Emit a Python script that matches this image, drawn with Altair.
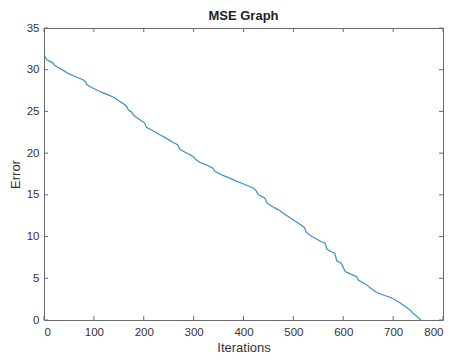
import altair as alt
import pandas as pd

iterations = [1, 3, 6, 12, 18, 22, 30, 42, 50, 58, 70, 78, 83, 86, 95, 108, 120, 132,
              142, 152, 162, 166, 169, 176, 180, 190, 202, 205, 215, 232, 245, 258,
              268, 272, 283, 299, 305, 312, 325, 339, 343, 360, 380, 400, 420, 425,
              430, 440, 444, 447, 458, 470, 485, 500, 510, 522, 526, 535, 544, 555,
              564, 567, 575, 583, 587, 596, 600, 604, 615, 627, 630, 645, 655, 667,
              680, 695, 705, 715, 725, 734, 740, 748, 756]
errors = [31.7, 31.5, 31.2, 31.0, 30.8, 30.5, 30.2, 29.8, 29.5, 29.3, 29.0, 28.8,
          28.6, 28.2, 27.9, 27.5, 27.2, 26.9, 26.6, 26.2, 25.8, 25.6, 25.2, 24.9,
          24.5, 24.1, 23.6, 23.1, 22.8, 22.2, 21.8, 21.3, 21.0, 20.5, 20.1, 19.6,
          19.2, 18.9, 18.6, 18.2, 17.8, 17.3, 16.8, 16.3, 15.8, 15.5, 15.0, 14.7,
          14.5, 14.0, 13.6, 13.2, 12.6, 12.0, 11.6, 11.1, 10.5, 10.1, 9.8, 9.4,
          9.2, 8.5, 8.2, 8.0, 7.1, 6.8, 6.3, 5.8, 5.5, 5.2, 4.8, 4.3, 3.8, 3.3,
          3.0, 2.7, 2.4, 2.0, 1.6, 1.2, 0.8, 0.4, 0.0]

x_ticks = [0, 100, 200, 300, 400, 500, 600, 700, 800]
y_ticks = [0, 5, 10, 15, 20, 25, 30, 35]

W, H = 399, 292
GRAY = "#6b6b6b"
FONT = "Liberation Sans"

df = pd.DataFrame({"Iterations": iterations, "Error": errors})
xt = pd.DataFrame({"v": x_ticks})
yt = pd.DataFrame({"v": y_ticks})

xscale = alt.Scale(domain=[0, 800], nice=False, zero=False)
yscale = alt.Scale(domain=[0, 35], nice=False, zero=False)
xaxis = alt.Axis(values=x_ticks, title="Iterations", labelPadding=6, titlePadding=4)
yaxis = alt.Axis(values=y_ticks, title="Error", labelPadding=5, titlePadding=4)

line = alt.Chart(df).mark_line(color="#3d8fc6", strokeWidth=1.2, clip=True).encode(
    x=alt.X("Iterations:Q", scale=xscale, axis=xaxis),
    y=alt.Y("Error:Q", scale=yscale, axis=yaxis),
)

bottom = alt.Chart(xt).mark_rule(color=GRAY).encode(
    x=alt.X("v:Q", scale=xscale, axis=xaxis), y=alt.value(H), y2=alt.value(H - 4))
top = alt.Chart(xt).mark_rule(color=GRAY).encode(
    x=alt.X("v:Q", scale=xscale, axis=xaxis), y=alt.value(0), y2=alt.value(4))
left = alt.Chart(yt).mark_rule(color=GRAY).encode(
    y=alt.Y("v:Q", scale=yscale, axis=yaxis), x=alt.value(0), x2=alt.value(4))
right = alt.Chart(yt).mark_rule(color=GRAY).encode(
    y=alt.Y("v:Q", scale=yscale, axis=yaxis), x=alt.value(W), x2=alt.value(W - 4))

chart = alt.layer(line, bottom, top, left, right).properties(
    width=W, height=H,
    title=alt.TitleParams("MSE Graph", fontSize=13, fontWeight="bold", font=FONT,
                          color="#222222", offset=3, dy=4, anchor="middle"),
    autosize=alt.AutoSizeParams(type="none"),
    padding={"left": 36, "top": 20, "right": 2, "bottom": 40},
).configure_view(stroke=GRAY, strokeWidth=1).configure_axis(
    domain=False, ticks=False, grid=False,
    labelFont=FONT, labelFontSize=11.5, labelColor="#333333",
    titleFont=FONT, titleFontSize=13, titleFontWeight="normal", titleColor="#333333",
)

chart.save("out.html", embed_options={"renderer": "svg", "actions": False})
